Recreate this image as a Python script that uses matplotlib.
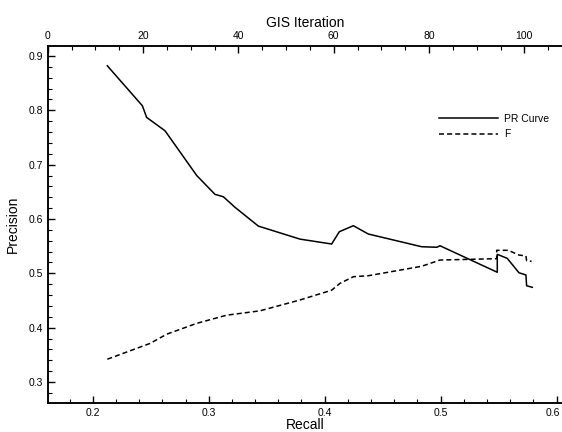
import matplotlib
matplotlib.use("Agg")
import matplotlib.pyplot as plt
import matplotlib.transforms as mtransforms
from matplotlib.ticker import MultipleLocator

plt.rcParams['font.family'] = ['Liberation Sans', 'DejaVu Sans']

# PR curve (solid)
recall_pr = [0.2126, 0.2428, 0.2465, 0.2623, 0.2897, 0.3054, 0.3126, 0.3227, 0.3428,
             0.3787, 0.4060, 0.4126, 0.4247, 0.4376, 0.4836, 0.4966, 0.4994, 0.5488,
             0.5488, 0.5574, 0.5675, 0.5735, 0.5741, 0.5790]
precision = [0.882, 0.8085, 0.787, 0.7625, 0.680, 0.6454, 0.641, 0.6215, 0.587,
             0.563, 0.554, 0.5766, 0.5877, 0.5724, 0.549, 0.548, 0.5508, 0.502,
             0.535, 0.5276, 0.5011, 0.497, 0.4772, 0.4743]

# F measure (dashed)
recall_f = [0.2126, 0.2494, 0.2638, 0.2897, 0.3155, 0.3442, 0.3787, 0.4060, 0.4132,
            0.4247, 0.4376, 0.4836, 0.4994, 0.5483, 0.5483, 0.5583, 0.5675, 0.5735,
            0.5741, 0.5784]
f_score = [0.342, 0.371, 0.388, 0.408, 0.423, 0.431, 0.451, 0.469, 0.4816,
           0.4938, 0.4956, 0.513, 0.5245, 0.527, 0.5424, 0.5424, 0.5337, 0.532,
           0.5232, 0.5221]

recall_ticks = [0.2, 0.3, 0.4, 0.5, 0.6]

fig = plt.figure(figsize=(5.62, 4.32), dpi=100)
ax = fig.add_axes([0.0849, 0.0678, 0.9151, 0.8264])

ax.plot(recall_pr, precision, color='black', lw=1.1, label='PR Curve')
ax.plot(recall_f, f_score, color='black', lw=1.1, dashes=(3.3, 2), label='F')

ax.set_xlim(0.1612, 0.6046)
ax.set_ylim(0.2619, 0.919)
ax.set_xticks(recall_ticks)
ax.xaxis.set_minor_locator(MultipleLocator(0.02))
ax.yaxis.set_major_locator(MultipleLocator(0.1))
ax.yaxis.set_minor_locator(MultipleLocator(0.02))
ax.set_xlabel('Recall', fontsize=10, labelpad=0)
ax.set_ylabel('Precision', fontsize=10, labelpad=6)

# top axis: GIS iteration
ax2 = ax.twiny()
ax2.set_xlim(0, 107.9)
ax2.xaxis.set_major_locator(MultipleLocator(20))
ax2.xaxis.set_minor_locator(MultipleLocator(5))
ax2.set_xlabel('GIS Iteration', fontsize=10, labelpad=3)

for a in (ax, ax2):
    a.spines['right'].set_visible(False)
    for s in a.spines.values():
        s.set_linewidth(1.1)
    a.tick_params(which='both', direction='in', labelsize=7.5, width=1.0)
    a.tick_params(which='major', length=5)
    a.tick_params(which='minor', length=3, width=0.8)
ax.tick_params(axis='y', which='both', right=False)

# last recall label sits at the right edge, nudge it in a little
last = ax.get_xticklabels()[-1]
last.set_transform(last.get_transform() + mtransforms.ScaledTranslation(-3 / 72, 0, fig.dpi_scale_trans))

ax.legend(loc='center left', bbox_to_anchor=(0.7817, 0.7067), bbox_transform=fig.transFigure,
          frameon=False, fontsize=7.5, handlelength=5.6, handletextpad=0.6,
          borderpad=0, borderaxespad=0, labelspacing=0.5)

fig.savefig('out.png', dpi=100)
